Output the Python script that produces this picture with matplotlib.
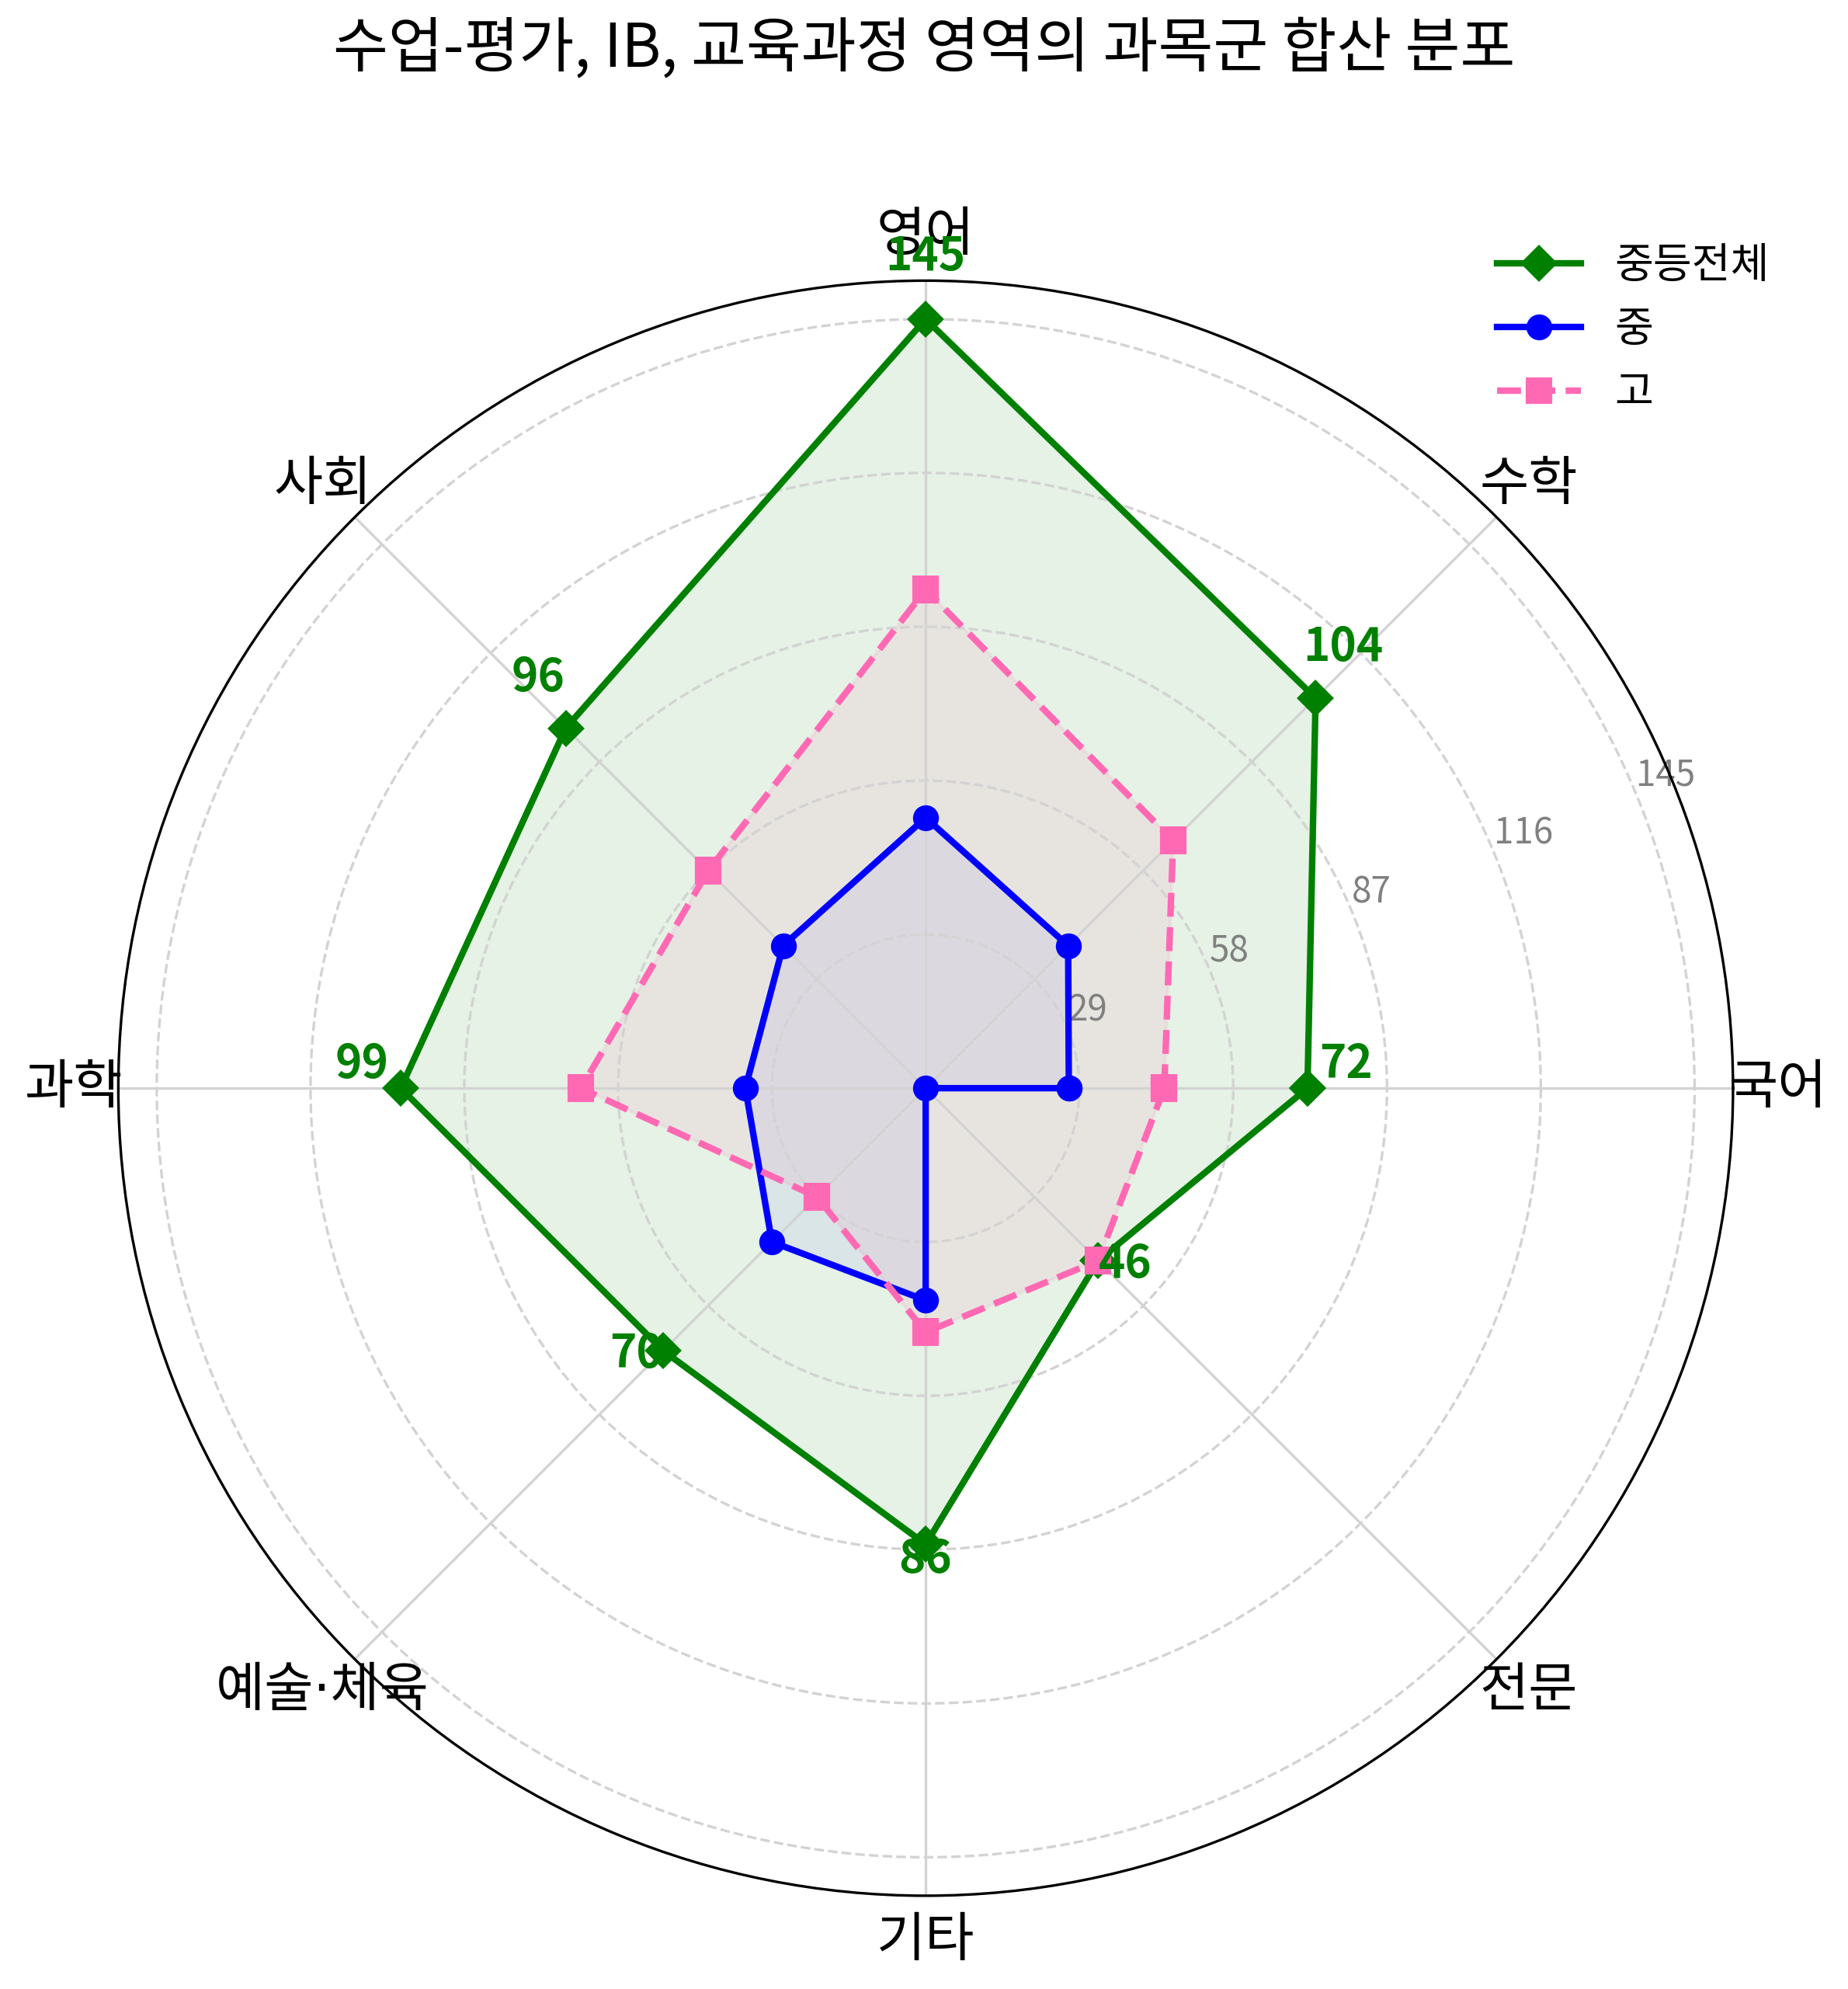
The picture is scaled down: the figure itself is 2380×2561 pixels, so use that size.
import numpy as np
import matplotlib
matplotlib.use('Agg')
import matplotlib.pyplot as plt

plt.rcParams['font.family'] = ['Noto Sans CJK KR', 'DejaVu Sans']

categories = ['국어', '수학', '영어', '사회', '과학', '예술·체육', '기타', '전문']
total = [72, 104, 145, 96, 99, 70, 86, 46]
middle = [27, 38, 51, 38, 34, 41, 40, 0]
high = [45, 66, 94, 58, 65, 29, 46, 46]
rticks = [29, 58, 87, 116, 145]

# name, values, colour, marker, linestyle, fill alpha
series = [
    ('중등전체', total, 'green', 'D', '-', 0.1),
    ('중', middle, 'blue', 'o', '-', 0.05),
    ('고', high, 'hotpink', 's', '--', 0.1),
]

angles = np.linspace(0, 2 * np.pi, len(categories), endpoint=False)
angles_closed = np.concatenate([angles, angles[:1]])

fig = plt.figure(figsize=(2380 / 300, 2561 / 300), dpi=300)
ax = fig.add_axes([0.0639, 0.0469, 0.874, 0.812], polar=True)

for name, vals, color, marker, ls, alpha in series:
    v = vals + vals[:1]
    ax.plot(angles_closed, v, color=color, marker=marker, linestyle=ls,
            linewidth=2, markersize=7, label=name)
    ax.fill(angles_closed, v, color=color, alpha=alpha)

vmax = max(total)
for a, v in zip(angles, total):
    ax.text(a, v + vmax * 0.05, str(v), color='green', fontsize=14,
            fontweight='bold', ha='center', va='bottom')

ax.set_ylim(0, vmax * 1.05)
ax.set_yticks(rticks)
ax.set_yticklabels([str(t) for t in rticks], color='gray', fontsize=11)
ax.set_rlabel_position(22.5)
ax.set_xticks(angles)
# DejaVu first so the middle dot stays narrow, hangul falls through to Noto
ax.set_xticklabels(categories, fontsize=16.5,
                   family=['DejaVu Sans', 'Noto Sans CJK KR'])

ax.yaxis.grid(True, color='lightgray', linestyle='--', linewidth=0.8)
ax.xaxis.grid(True, color='lightgray', linestyle='-', linewidth=0.8)

fig.text(0.5, 0.975, '수업-평가, IB, 교육과정 영역의 과목군 합산 분포',
         ha='center', va='center', fontsize=18.5)
fig.legend(loc='upper right', bbox_to_anchor=(0.978, 0.896), frameon=False,
           fontsize=13)

fig.savefig('out.png', dpi=300)
